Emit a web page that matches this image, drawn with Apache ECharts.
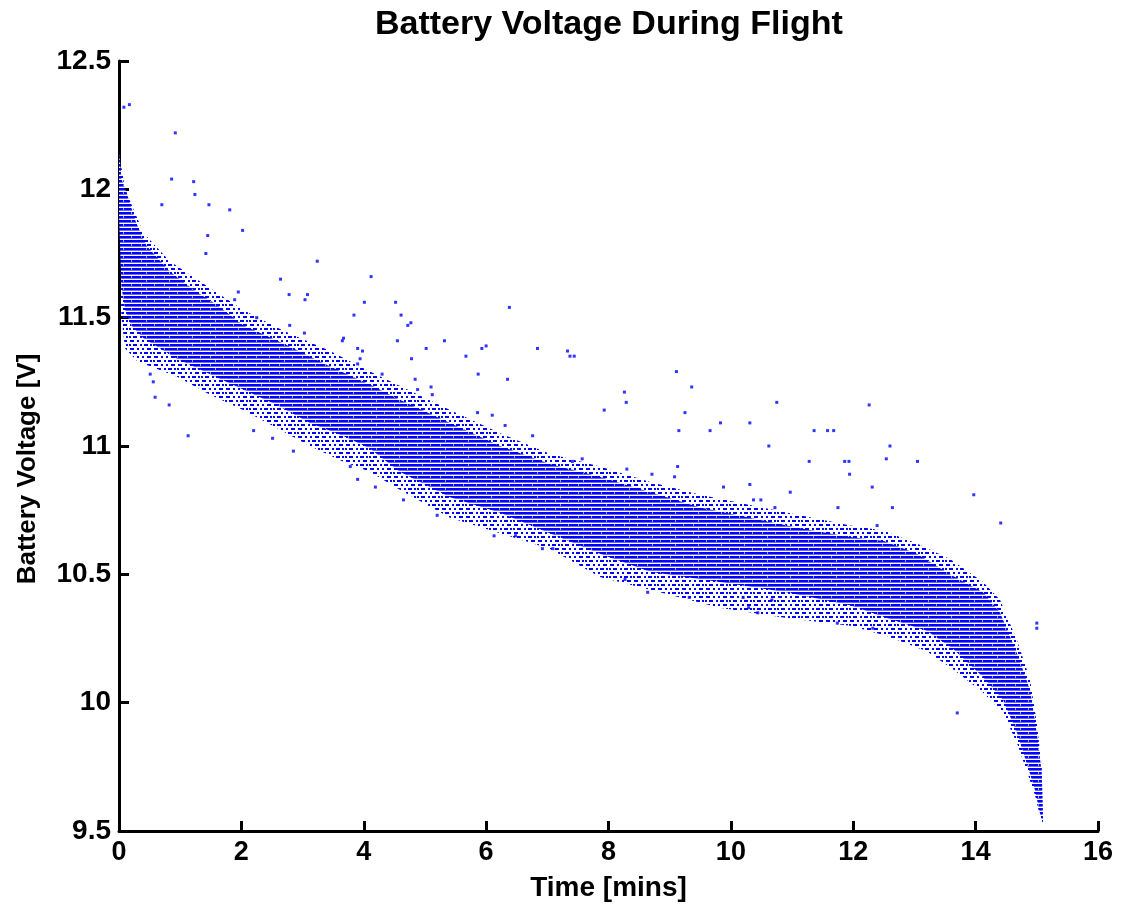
<!DOCTYPE html>
<html>
<head>
<meta charset="utf-8">
<script src="https://cdn.jsdelivr.net/npm/echarts@6/dist/echarts.min.js"></script>
<style>
  html, body { margin: 0; padding: 0; background: #fff; }
  #main { width: 1122px; height: 913px; }
</style>
</head>
<body>
<div id="main"></div>
<script>
// tick values
var xTicks = [0, 2, 4, 6, 8, 10, 12, 14, 16]
var yTicks = [9.5, 10, 10.5, 11, 11.5, 12, 12.5]

// dense core of the cloud of samples, [time (min), volts]
var coreUpper = [
  [0, 12.14], [0.02, 12.1], [0.04, 12.04], [0.12, 11.99], [0.28, 11.87], [0.45, 11.78],
  [0.83, 11.68], [1.27, 11.6], [1.6, 11.55], [2.03, 11.47], [2.68, 11.4], [3.45, 11.31],
  [4.1, 11.24], [4.59, 11.18], [5.41, 11.09], [6.23, 11.0], [7.04, 10.93], [7.86, 10.88],
  [8.68, 10.82], [9.5, 10.76], [10.31, 10.72], [11.13, 10.68], [11.95, 10.645], [12.5, 10.63],
  [13.04, 10.58], [13.58, 10.5], [14.12, 10.43], [14.4, 10.35], [14.68, 10.19], [14.89, 10.05],
  [15.0, 9.88], [15.08, 9.73], [15.1, 9.53]
]
var coreLower = [
  [0, 11.9], [0.04, 11.62], [0.1, 11.53], [0.2, 11.47], [0.4, 11.42], [0.95, 11.34],
  [1.49, 11.28], [2.03, 11.22], [2.58, 11.16], [3.12, 11.09], [3.66, 11.04], [4.1, 10.99],
  [4.59, 10.9], [5.41, 10.8], [6.23, 10.74], [7.04, 10.66], [7.86, 10.58], [8.68, 10.51],
  [9.82, 10.47], [10.91, 10.43], [11.95, 10.38], [12.55, 10.33], [13.2, 10.28], [13.63, 10.21],
  [14.12, 10.1], [14.45, 10.01], [14.68, 9.88], [14.84, 9.76], [14.97, 9.66], [15.05, 9.57],
  [15.1, 9.53]
]

// sparse fringe around the core
var fringeUpper = [
  [0, 12.14], [0.1, 12.0], [0.4, 11.83], [0.83, 11.72], [1.27, 11.65], [2.03, 11.53],
  [2.68, 11.45], [3.45, 11.37], [4.1, 11.29], [5.41, 11.14], [6.23, 11.05], [7.04, 10.97],
  [7.86, 10.92], [8.68, 10.86], [9.5, 10.81], [10.31, 10.77], [11.13, 10.73], [11.95, 10.69],
  [12.5, 10.67], [13.04, 10.62], [13.58, 10.56], [14.12, 10.47], [14.4, 10.4], [14.68, 10.24],
  [14.89, 10.09], [15.0, 9.92], [15.08, 9.75], [15.1, 9.53]
]
var fringeLower = [
  [0, 11.9], [0.04, 11.5], [0.1, 11.38], [0.3, 11.33], [0.95, 11.27], [1.49, 11.2],
  [2.03, 11.14], [2.58, 11.07], [3.12, 11.0], [3.66, 10.94], [4.1, 10.9], [4.59, 10.83],
  [5.41, 10.72], [6.23, 10.66], [7.04, 10.6], [7.86, 10.49], [8.68, 10.44], [9.82, 10.37],
  [10.91, 10.33], [11.95, 10.3], [12.55, 10.26], [13.2, 10.2], [13.63, 10.13], [14.12, 10.04],
  [14.45, 9.96], [14.68, 9.84], [14.84, 9.73], [14.97, 9.64], [15.05, 9.56], [15.1, 9.53]
]

// isolated samples away from the band
var outliers = [
  [0.08, 12.32], [0.17, 12.33], [0.92, 12.22], [0.86, 12.04], [1.22, 12.03], [1.24, 11.98],
  [0.70, 11.94], [1.47, 11.94], [1.81, 11.92], [2.02, 11.84], [1.45, 11.82], [1.42, 11.75],
  [3.24, 11.72], [4.12, 11.66], [2.64, 11.65], [2.78, 11.59], [3.08, 11.59], [3.04, 11.57],
  [1.95, 11.60], [1.89, 11.57], [4.01, 11.56], [4.52, 11.56], [6.38, 11.54], [3.84, 11.51],
  [4.61, 11.51], [2.25, 11.50], [4.77, 11.48], [4.72, 11.47], [2.79, 11.47], [3.03, 11.44],
  [3.67, 11.42], [3.65, 11.41], [4.55, 11.41], [5.32, 11.41], [6.00, 11.39], [5.93, 11.38],
  [6.84, 11.38], [5.02, 11.38], [7.33, 11.37], [7.37, 11.35], [7.44, 11.35], [5.67, 11.35],
  [4.78, 11.34], [5.87, 11.28], [6.35, 11.26], [4.84, 11.26], [4.88, 11.22], [5.10, 11.23],
  [5.12, 11.20], [4.30, 11.28], [3.90, 11.38], [3.98, 11.37], [3.94, 11.34], [3.90, 11.32],
  [5.86, 11.13], [6.10, 11.12], [6.31, 11.08], [6.76, 11.04],
  [9.11, 11.29], [9.36, 11.23], [8.26, 11.21], [8.29, 11.17], [7.93, 11.14], [10.75, 11.17],
  [12.26, 11.16], [9.25, 11.13], [9.83, 11.09], [10.31, 11.09], [9.15, 11.06], [9.66, 11.06],
  [11.36, 11.06], [11.58, 11.06], [11.68, 11.06], [10.62, 11.0], [12.60, 11.0], [12.54, 10.95],
  [11.28, 10.94], [11.86, 10.94], [11.93, 10.94], [13.05, 10.94], [11.94, 10.89], [12.31, 10.84],
  [13.97, 10.81], [12.64, 10.76], [11.75, 10.76], [14.41, 10.70], [12.39, 10.69], [10.31, 10.85],
  [10.97, 10.82], [9.88, 10.84], [9.13, 10.92], [8.71, 10.89], [9.08, 10.88], [8.30, 10.91],
  [7.57, 10.95], [7.41, 10.94], [10.37, 10.79], [10.49, 10.79], [10.72, 10.76],
  [15.0, 10.31], [15.0, 10.29], [13.70, 9.96],
  [0.59, 11.19], [0.82, 11.16], [1.13, 11.04], [0.51, 11.28], [0.56, 11.25], [2.85, 10.98],
  [3.90, 10.87], [3.78, 10.92], [2.20, 11.06], [2.51, 11.03], [4.19, 10.84], [4.65, 10.79],
  [6.13, 10.65], [6.48, 10.65], [6.92, 10.60], [7.09, 10.60], [5.20, 10.73], [8.64, 10.43],
  [10.29, 10.37], [10.44, 10.35], [9.32, 10.41], [11.74, 10.31], [12.32, 10.29], [8.27, 10.48],
  [10.2, 10.41], [10.67, 10.40]
]

var BLUE = '#0000ff'

// texture for the dense rows of quantised samples
function makeCoreTile() {
  var c = document.createElement('canvas')
  c.width = 23; c.height = 8
  var g = c.getContext('2d')
  g.fillStyle = '#ffffff'; g.fillRect(0, 0, 23, 8)
  g.fillStyle = '#6a6aff'; g.fillRect(0, 2, 23, 1); g.fillRect(0, 6, 23, 1)
  g.fillStyle = BLUE; g.fillRect(0, 0, 23, 2); g.fillRect(0, 4, 23, 2)
  g.fillStyle = '#9a9aff'
  g.fillRect(8, 0, 1, 2); g.fillRect(3, 4, 1, 2); g.fillRect(16, 4, 1, 2)
  return c
}

// texture for the thin fringe, loose dots on the same rows
function makeFringeTile() {
  var c = document.createElement('canvas')
  c.width = 24; c.height = 8
  var g = c.getContext('2d')
  g.fillStyle = BLUE
  var dots = [[0, 0], [2, 0], [6, 0], [9, 0], [13, 0], [15, 0], [20, 0],
              [3, 4], [5, 4], [10, 4], [12, 4], [17, 4], [22, 4]]
  dots.forEach(function (d) { g.fillRect(d[0], d[1], 2, 2) })
  return c
}

function bandSeries(upper, lower, tile, z) {
  return {
    type: 'custom',
    z: z,
    silent: true,
    data: [0],
    renderItem: function (params, api) {
      var pts = []
      upper.forEach(function (p) { pts.push(api.coord(p)) })
      for (var i = lower.length - 1; i >= 0; i--) pts.push(api.coord(lower[i]))
      return {
        type: 'polygon',
        shape: { points: pts },
        style: { fill: { image: tile, repeat: 'repeat' }, stroke: null }
      }
    }
  }
}

var myChart = echarts.init(document.getElementById('main'))
var labelFont = { fontFamily: 'Liberation Sans, Arial, sans-serif', fontWeight: 'bold', color: '#000' }

myChart.setOption({
  animation: false,
  backgroundColor: '#fff',
  title: {
    text: 'Battery Voltage During Flight',
    left: 370,
    top: 3,
    textStyle: Object.assign({ fontSize: 34 }, labelFont)
  },
  grid: { left: 119, right: 24, top: 61, bottom: 82 },
  xAxis: {
    type: 'value',
    min: xTicks[0],
    max: xTicks[xTicks.length - 1],
    interval: 2,
    name: 'Time [mins]',
    nameLocation: 'middle',
    nameGap: 43,
    nameTextStyle: Object.assign({ fontSize: 28 }, labelFont),
    axisLine: { lineStyle: { color: '#000', width: 3 } },
    axisTick: { inside: true, length: 10, lineStyle: { color: '#000', width: 3 } },
    axisLabel: Object.assign({ fontSize: 27, margin: 8 }, labelFont),
    splitLine: { show: false }
  },
  yAxis: {
    type: 'value',
    min: yTicks[0],
    max: yTicks[yTicks.length - 1],
    interval: 0.5,
    name: 'Battery Voltage [V]',
    nameLocation: 'middle',
    nameRotate: 90,
    nameGap: 78,
    nameTextStyle: Object.assign({ fontSize: 26, padding: [0, 46, 0, 0] }, labelFont),
    axisLine: { show: true, lineStyle: { color: '#000', width: 3 } },
    axisTick: { show: true, inside: true, length: 10, lineStyle: { color: '#000', width: 3 } },
    axisLabel: Object.assign({ fontSize: 28, margin: 8 }, labelFont),
    splitLine: { show: false }
  },
  series: [
    bandSeries(fringeUpper, fringeLower, makeFringeTile(), 1),
    bandSeries(coreUpper, coreLower, makeCoreTile(), 2),
    {
      type: 'scatter',
      z: 3,
      silent: true,
      symbol: 'rect',
      symbolSize: 3,
      itemStyle: { color: BLUE },
      data: outliers
    }
  ]
})
</script>
</body>
</html>
